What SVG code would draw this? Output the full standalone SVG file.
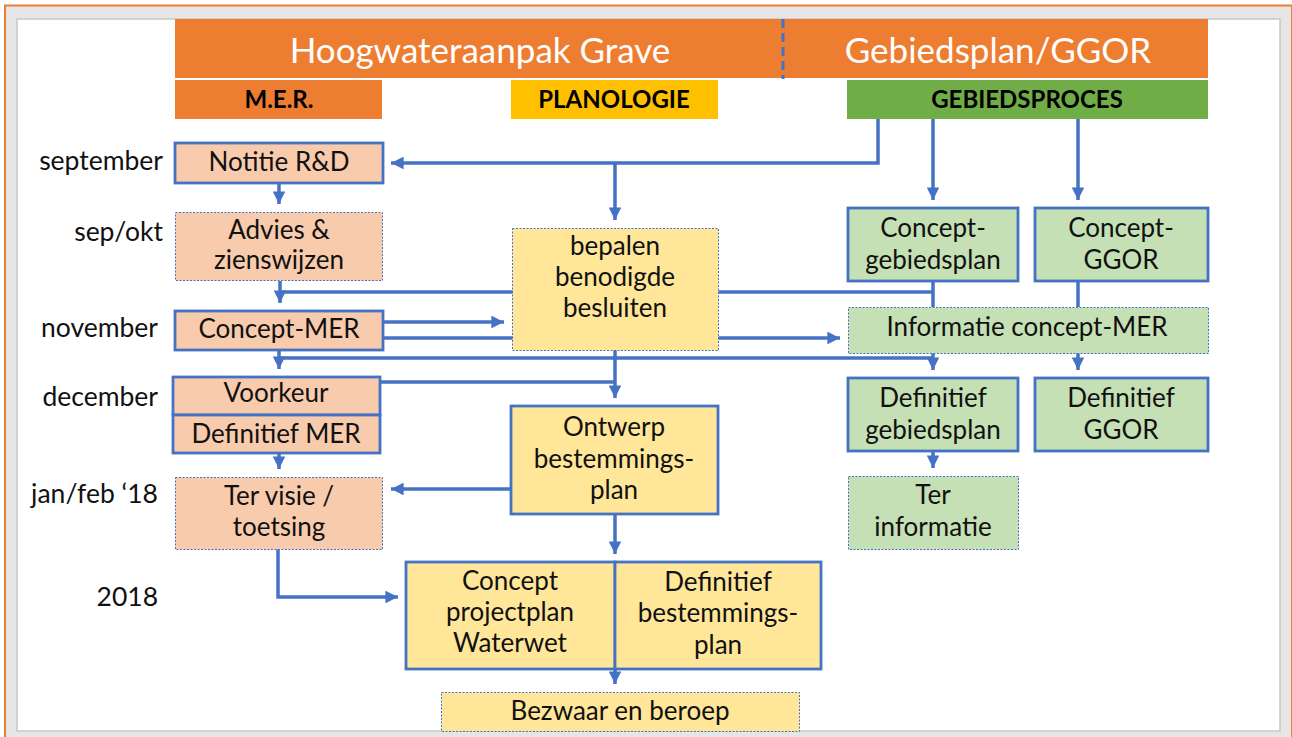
<svg xmlns="http://www.w3.org/2000/svg" width="1292" height="737" viewBox="0 0 1292 737">
<defs>
<marker id="ah" viewBox="0 0 10 10" refX="10" refY="5" markerWidth="3.6" markerHeight="3.6" orient="auto" markerUnits="strokeWidth">
<path d="M0,0 L10,5 L0,10 z" fill="#4472C4"/>
</marker>
<style>
.t{font-family:Lato,"Open Sans","Liberation Sans",sans-serif;fill:#111;font-size:26px;text-anchor:middle;dominant-baseline:central}
.m{font-family:Lato,"Open Sans","Liberation Sans",sans-serif;fill:#111;font-size:26.5px;text-anchor:end;dominant-baseline:central}
.h{font-family:Lato,"Open Sans","Liberation Sans",sans-serif;fill:#ffffff;font-size:35px;text-anchor:middle;dominant-baseline:central}
.s{font-family:Lato,"Open Sans","Liberation Sans",sans-serif;fill:#000;font-size:24px;font-weight:bold;text-anchor:middle;dominant-baseline:central}
.solid{stroke:#4472C4;stroke-width:2.8}
.dash{stroke:#4472C4;stroke-width:1;stroke-dasharray:2 1.5}
.mer{fill:#F8CBAD}
.pla{fill:#FFE699}
.geb{fill:#C5E0B4}
.c{fill:none;stroke:#4472C4;stroke-width:3.5}
</style>
</defs>
<rect x="5" y="5" width="1287" height="732" fill="#E6E6E6"/>
<path d="M5,737 V5.5 H1292" fill="none" stroke="#ED7D31" stroke-width="2"/>
<line x1="1291.5" y1="5" x2="1291.5" y2="737" stroke="#ED7D31" stroke-width="1"/>
<rect x="17" y="19" width="1263" height="712" fill="#FFFFFF" stroke="#C8C8C8" stroke-width="1.5"/>

<g id="header">
<rect x="175" y="19" width="1033" height="59" fill="#ED7D31"/>
<line x1="783" y1="19" x2="783" y2="79" stroke="#4472C4" stroke-width="3" stroke-dasharray="9 5"/>
<text class="h" x="480" y="49">Hoogwateraanpak Grave</text>
<text class="h" x="998" y="49">Gebiedsplan/GGOR</text>
</g>
<g id="hdr-mer">
<rect x="175" y="80" width="207" height="39" fill="#ED7D31"/>
<text class="s" x="279" y="98">M.E.R.</text>
</g>
<g id="hdr-planologie">
<rect x="511" y="80" width="207" height="39" fill="#FFC000"/>
<text class="s" x="614" y="98">PLANOLOGIE</text>
</g>
<g id="hdr-gebiedsproces">
<rect x="847" y="80" width="361" height="39" fill="#70AD47"/>
<text class="s" x="1027" y="98">GEBIEDSPROCES</text>
</g>

<g id="months">
<text class="m" x="163" y="160">september</text>
<text class="m" x="163" y="231">sep/okt</text>
<text class="m" x="158" y="327">november</text>
<text class="m" x="158" y="396">december</text>
<text class="m" x="158" y="493">jan/feb ‘18</text>
<text class="m" x="158" y="596">2018</text>
</g>

<g id="connectors">
<path class="c" d="M878,119 V163 H391" marker-end="url(#ah)"/>
<path class="c" d="M615,163 V220" marker-end="url(#ah)"/>
<path class="c" d="M933,119 V200" marker-end="url(#ah)"/>
<path class="c" d="M1078,119 V200" marker-end="url(#ah)"/>
<path class="c" d="M279,183 V204" marker-end="url(#ah)"/>
<path class="c" d="M280,281 V303" marker-end="url(#ah)"/>
<path class="c" d="M280,292 H933"/>
<path class="c" d="M933,281 V307"/>
<path class="c" d="M1078,281 V307"/>
<path class="c" d="M383,322 H504" marker-end="url(#ah)"/>
<path class="c" d="M383,338 H840" marker-end="url(#ah)"/>
<path class="c" d="M279,350 V369" marker-end="url(#ah)"/>
<path class="c" d="M279,358 H933"/>
<path class="c" d="M933,353 V370" marker-end="url(#ah)"/>
<path class="c" d="M1078,353 V370" marker-end="url(#ah)"/>
<path class="c" d="M615,350 V398" marker-end="url(#ah)"/>
<path class="c" d="M380,382 H615"/>
<path class="c" d="M279,453 V469" marker-end="url(#ah)"/>
<path class="c" d="M511,489 H391" marker-end="url(#ah)"/>
<path class="c" d="M278,549 V597 H398" marker-end="url(#ah)"/>
<path class="c" d="M615,514 V554" marker-end="url(#ah)"/>
<path class="c" d="M615,669 V684" marker-end="url(#ah)"/>
<path class="c" d="M933,451 V468" marker-end="url(#ah)"/>
</g>

<g id="notitie">
<rect class="mer solid" x="175" y="143" width="208" height="40"/>
<text class="t" x="279" y="161">Notitie R&amp;D</text>
</g>
<g id="advies">
<rect class="mer dash" x="175.5" y="212.5" width="207" height="68"/>
<text class="t" x="279" y="229">Advies &amp;</text>
<text class="t" x="279" y="259">zienswijzen</text>
</g>
<g id="concept-mer">
<rect class="mer solid" x="175" y="311" width="208" height="39"/>
<text class="t" x="279" y="328">Concept-MER</text>
</g>
<g id="voorkeur">
<rect class="mer solid" x="173" y="377" width="207" height="38"/>
<text class="t" x="276" y="392">Voorkeur</text>
</g>
<g id="definitief-mer">
<rect class="mer solid" x="173" y="415" width="207" height="38"/>
<text class="t" x="276" y="433">Definitief MER</text>
</g>
<g id="ter-visie">
<rect class="mer dash" x="175.5" y="477.5" width="207" height="72"/>
<text class="t" x="279" y="495">Ter visie /</text>
<text class="t" x="279" y="526">toetsing</text>
</g>

<g id="bepalen">
<rect class="pla dash" x="512.5" y="228.5" width="206" height="122"/>
<text class="t" x="615" y="245">bepalen</text>
<text class="t" x="615" y="276">benodigde</text>
<text class="t" x="615" y="307">besluiten</text>
</g>
<g id="ontwerp">
<rect class="pla solid" x="511" y="406" width="207" height="108"/>
<text class="t" x="614" y="426">Ontwerp</text>
<text class="t" x="614" y="458">bestemmings-</text>
<text class="t" x="614" y="489">plan</text>
</g>
<g id="concept-projectplan">
<rect class="pla solid" x="406" y="562" width="209" height="107"/>
<text class="t" x="510" y="580">Concept</text>
<text class="t" x="510" y="611">projectplan</text>
<text class="t" x="510" y="642">Waterwet</text>
</g>
<g id="definitief-bp">
<rect class="pla solid" x="615" y="562" width="206" height="107"/>
<text class="t" x="718" y="581">Definitief</text>
<text class="t" x="718" y="612">bestemmings-</text>
<text class="t" x="718" y="644">plan</text>
</g>
<g id="bezwaar">
<rect class="pla dash" x="441.5" y="692.5" width="358" height="39"/>
<text class="t" x="620" y="710">Bezwaar en beroep</text>
</g>

<g id="concept-gebiedsplan">
<rect class="geb solid" x="848" y="208" width="170" height="73"/>
<text class="t" x="933" y="227">Concept-</text>
<text class="t" x="933" y="259">gebiedsplan</text>
</g>
<g id="concept-ggor">
<rect class="geb solid" x="1035" y="208" width="173" height="73"/>
<text class="t" x="1121" y="227">Concept-</text>
<text class="t" x="1121" y="259">GGOR</text>
</g>
<g id="informatie">
<rect class="geb dash" x="848.5" y="307.5" width="360" height="46"/>
<text class="t" x="1027" y="326">Informatie concept-MER</text>
</g>
<g id="def-gebiedsplan">
<rect class="geb solid" x="848" y="378" width="170" height="73"/>
<text class="t" x="933" y="397">Definitief</text>
<text class="t" x="933" y="429">gebiedsplan</text>
</g>
<g id="def-ggor">
<rect class="geb solid" x="1035" y="378" width="173" height="73"/>
<text class="t" x="1121" y="397">Definitief</text>
<text class="t" x="1121" y="429">GGOR</text>
</g>
<g id="ter-informatie">
<rect class="geb dash" x="848.5" y="476.5" width="170" height="73"/>
<text class="t" x="933" y="494">Ter</text>
<text class="t" x="933" y="526">informatie</text>
</g>
</svg>
